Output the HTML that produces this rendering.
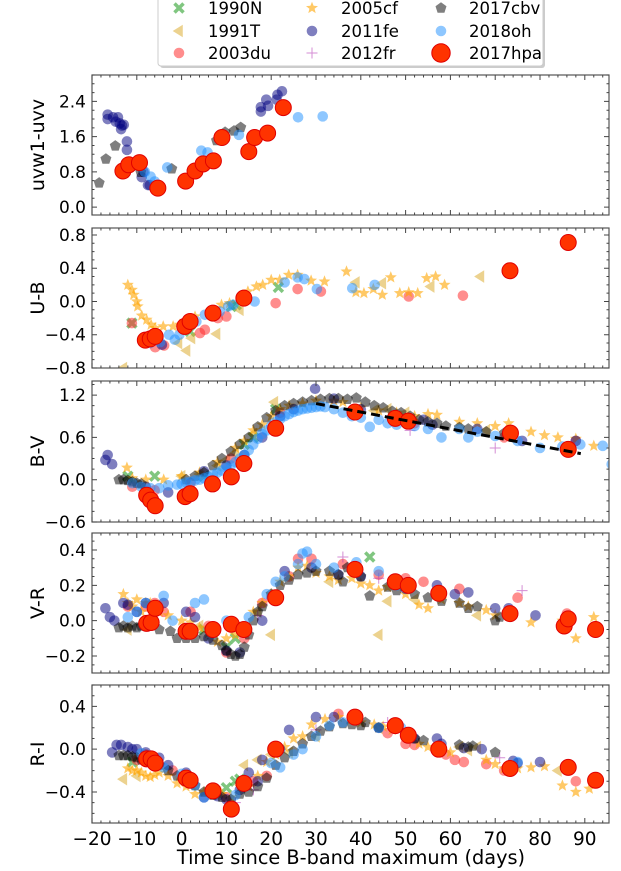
<!DOCTYPE html>
<html><head><meta charset="utf-8"><style>
html,body{margin:0;padding:0;background:#fff;}
svg{display:block;font-family:"DejaVu Sans","Liberation Sans",sans-serif;}
</style></head><body>
<svg id="chart" width="621" height="871" viewBox="0 0 621 871" xmlns="http://www.w3.org/2000/svg"></svg>
<script>
// ---------- data (day, colour) ----------
const uv_2011fe=[[-16.5,2.1],[-16.5,2.0],[-15.3,2.04],[-14.7,1.94],[-14.2,2.04],[-13.8,1.9],[-13.3,1.85],[-13.5,1.77],[-12.9,1.87],[-12.2,1.49],[-12.2,1.3],[-8.9,0.68],[-8.5,0.8],[-7.5,0.5],[-7.1,0.5],[17.7,2.27],[17.7,2.17],[18.9,2.44],[19.3,2.3],[21.2,2.44],[21.4,2.55],[22.4,2.63]];
const uv_2018oh=[[-8.2,0.8],[-6.9,0.69],[-6,0.58],[-3.2,0.9],[4.4,1.28],[5.8,1.24],[12.8,1.64],[26,2.04],[31.5,2.06]];
const uv_2017cbv=[[-18.4,0.55],[-16.9,1.09],[-14.8,1.39],[-9.1,0.79],[-2.2,0.87],[7.8,1.51],[9.7,1.7],[11.7,1.73],[13.2,1.81]];
const uv_2017hpa=[[-13.1,0.82],[-11.8,0.96],[-9.4,1.01],[-5.3,0.43],[0.9,0.59],[3,0.82],[4.8,0.98],[7.1,1.05],[9,1.58],[15,1.26],[16.3,1.58],[19.2,1.68],[22.7,2.26]];

const ub_1990N=[[-11.1,-0.26],[1.9,-0.36],[11.1,-0.06],[12.2,-0.04],[21.6,0.17]];
const ub_1991T=[[-13,-0.8],[-0.7,-0.5],[1.1,-0.59],[2.2,-0.44],[7.8,-0.39],[13,-0.1],[38.9,0.23],[44.8,0.22],[55.6,0.18],[66.7,0.3]];
const ub_2003du=[[-11.1,-0.26],[-5.9,-0.55],[-3.9,-0.53],[4.1,-0.38],[5.2,-0.34],[8.1,-0.2],[10,-0.18],[21,-0.02],[25.9,0.15],[31.1,0.12],[50.7,0.06],[62.8,0.07]];
const ub_2005cf=[[-12,0.2],[-11.1,0.14],[-10.7,0.08],[-10,0.0],[-9.8,-0.06],[-8.9,-0.17],[-7.8,-0.22],[-6.8,-0.28],[-5.9,-0.32],[-4.1,-0.3],[-1.9,-0.3],[-0.4,-0.28],[3,-0.18],[8.9,-0.04],[10.7,-0.02],[14.8,0.12],[16.7,0.18],[18.1,0.2],[20,0.26],[21.9,0.26],[23.9,0.32],[25.9,0.32],[28.9,0.25],[31.9,0.24],[36.8,0.36],[38.9,0.11],[40.7,0.1],[42.8,0.15],[44.8,0.08],[46.7,0.29],[48.7,0.1],[50.7,0.11],[52.7,0.1],[54.7,0.28],[56.7,0.3],[58.7,0.2]];
const ub_2011fe=[[-4.4,-0.52]];
const ub_2018oh=[[-7,-0.5],[-4.8,-0.49],[-2.8,-0.4],[-1.5,-0.46],[-0.5,-0.4],[3.3,-0.24],[5.2,-0.16],[8.5,-0.12],[10.4,-0.06],[11.5,-0.04],[16.3,0.0],[23,0.23],[25.9,0.29],[27.4,0.27],[30.2,0.15],[38.1,0.16],[43.1,0.2]];
const ub_2017hpa=[[-8.1,-0.465],[-7,-0.45],[-5.9,-0.42],[0.7,-0.3],[1.9,-0.24],[7,-0.14],[13.9,0.04],[73.3,0.37],[86.3,0.71]];

const bv_1990N=[[-12,0.05],[-6,0.05],[5,0.05],[14,0.5],[16,0.6],[21,1.0]];
const bv_1991T=[[0,0.05],[4,0.08],[8,0.2],[10,0.28],[12,0.38],[16,0.65],[20.7,1.1],[43,0.98],[46,1.0],[50,0.95],[68,0.7]];
const bv_2003du=[[-11,-0.1],[-6,-0.15],[2,-0.05],[11,0.3],[22,0.95],[52,0.8],[72,0.6],[88,0.55]];
const bv_2005cf=[[-12.2,0.17],[-11,0.02],[-8,0.0],[-4,0.0],[0,0.05],[4,0.1],[8,0.25],[12,0.45],[14,0.55],[16,0.7],[18,0.78],[20,0.9],[22,1.0],[24,1.05],[27,1.08],[30,1.12],[34,1.12],[36,1.1],[40,1.02],[44,0.98],[48,0.95],[52,0.9],[55,0.93],[57,0.92],[62,0.82],[66,0.8],[70,0.76],[73,0.8],[78,0.68],[81,0.63],[84,0.6],[88,0.58],[92,0.48]];
const bv_2011fe=[[-17,0.28],[-16.5,0.35],[-15.5,0.22],[-8,-0.1],[-3,-0.18],[5,0.12],[10,0.2],[14,0.35],[18,0.6],[22,0.9],[25,1.0],[29.8,1.29],[34,1.15],[40,1.0],[54,0.85],[56,0.78],[66,0.72],[76,0.55],[88,0.55]];
const bv_2012fr=[[51,0.7],[70,0.45]];
const bv_2017cbv=[[-14,0.0],[-13,0.0],[-12,-0.01],[-11,-0.03],[-10,-0.05],[-9,-0.06],[1,0.0],[3,0.05],[5,0.1],[7,0.2],[9,0.3],[11,0.4],[13,0.5],[15,0.6],[17,0.75],[19,0.88],[21,0.98],[23,1.05],[25,1.08],[27,1.1],[29,1.12],[31,1.14],[33,1.15],[35,1.15],[37,1.14],[39,1.16],[41,1.1],[43,1.05],[45,1.02],[47,0.97],[49,0.95],[51,0.9],[53,0.85],[55,0.82],[57,0.8],[59,0.76],[62,0.74],[64,0.72],[68,0.68],[72,0.66]];
const bv_2018oh=[[-11,-0.05],[-9,-0.1],[-7,-0.12],[-5,-0.12],[-3,-0.08],[-1,-0.07],[0,-0.06],[1,-0.04],[2,-0.03],[3,-0.01],[4,0.0],[5,0.02],[6,0.04],[7,0.07],[8,0.1],[9,0.13],[10,0.17],[11,0.2],[12,0.25],[13,0.3],[14,0.35],[15,0.42],[16,0.5],[17,0.58],[18,0.65],[19,0.7],[20,0.76],[21,0.82],[22,0.86],[23,0.9],[24,0.93],[25,0.96],[26,0.98],[27,1.0],[28,1.01],[29,1.02],[30,1.03],[31,1.04],[32,1.03],[34,1.0],[36,0.95],[38,0.9],[40,0.88],[42,0.75],[44,0.85],[46,0.8],[48,0.78],[52,0.76],[55,0.72],[58,0.6],[62,0.72],[64,0.6],[66,0.68],[70,0.62],[75,0.55],[80,0.45],[85,0.47],[89,0.5],[94,0.48],[96,0.22]];
const bv_2017hpa=[[-7.8,-0.22],[-6.9,-0.29],[-5.9,-0.37],[0.8,-0.24],[1.9,-0.2],[6.9,-0.06],[11.1,0.04],[13.9,0.23],[21,0.73],[38.7,0.96],[47.7,0.87],[50.6,0.83],[73.4,0.66],[86.3,0.43]];
const bv_fit=[[30,1.08],[89.1,0.37]];

const vr_1990N=[[5,-0.05],[10,-0.15],[12,-0.1],[42,0.36]];
const vr_1991T=[[-12,-0.05],[4,-0.03],[17,0.05],[20,-0.08],[33,0.22],[46,0.11],[52,0.12],[66,0.03],[44,-0.08],[86,0.0]];
const vr_2003du=[[-12,0.08],[-8,0.08],[-6,0.1],[-4,0.05],[2,0.05],[6,-0.03],[10,-0.18],[14,-0.1],[18,0.1],[20,0.13],[24,0.25],[26,0.35],[29,0.35],[36,0.32],[44,0.26],[50,0.24],[54,0.22],[62,0.18],[75,0.13],[86,0.04]];
const vr_2005cf=[[-13,0.15],[-12,0.1],[-11,0.08],[-10,0.12],[-9,0.05],[-8,0.1],[-7,0.1],[-6,0.07],[-5,0.05],[-3,0.03],[0,0.0],[2,-0.01],[4,-0.04],[6,-0.07],[8,-0.12],[10,-0.1],[12,-0.08],[14,-0.04],[16,0.05],[18,0.1],[20,0.15],[22,0.22],[24,0.25],[26,0.3],[28,0.31],[30,0.27],[33,0.25],[35,0.23],[38,0.24],[40,0.21],[42,0.2],[44,0.17],[46,0.19],[50,0.15],[53,0.09],[55,0.07],[58,0.12],[62,0.1],[64,0.08],[68,0.06],[70,0.03],[73,0.04],[78,-0.01],[85,0.0],[88,-0.1],[92,0.02]];
const vr_2011fe=[[-17,0.07],[-16,0.02],[-15,0.0],[-13,0.1],[-12,0.09],[-10,0.05],[-8,0.1],[-4,0.1],[1,0.05],[3,0.02],[6,-0.1],[10,-0.17],[13,-0.18],[18,0.0],[23,0.28],[29,0.3],[35,0.26],[40,0.25],[50,0.18],[57,0.2],[61,0.15],[64,0.16],[70,0.07],[73,0.07],[79,0.03]];
const vr_2012fr=[[17,0.03],[36,0.36],[44,0.24],[49,0.2],[76,0.17]];
const vr_2017cbv=[[-14,-0.04],[-13,-0.03],[-12,-0.04],[-11,-0.03],[-10,-0.04],[-9,-0.03],[-7,-0.02],[-5,-0.05],[-2.5,-0.06],[-1,-0.1],[1,-0.1],[3,-0.1],[5,-0.09],[7,-0.11],[9,-0.14],[10,-0.17],[11,-0.19],[12,-0.2],[13,-0.19],[14,-0.15],[15,-0.08],[16,0.0],[17,0.05],[18,0.08],[20,0.15],[22,0.2],[24,0.23],[26,0.26],[28,0.27],[30,0.28],[33,0.28],[35,0.26],[36,0.22],[37,0.3],[40,0.25],[42,0.14],[46,0.19],[48,0.17],[52,0.15],[55,0.13],[58,0.11],[62,0.1],[64,0.07],[66,0.08],[70,0.0],[71,0.02]];
const vr_2018oh=[[-12,0.02],[-10,0.05],[-8,0.1],[-6,0.05],[-4,0.14],[-2,0.0],[3,0.1],[5,0.12],[10,0.0],[11,-0.03],[15,0.02],[19,0.15],[21,0.22],[23,0.25],[26,0.32],[27,0.38],[28,0.39],[30,0.32],[34,0.3],[39,0.33],[44,0.28],[48,0.2]];
const vr_2017hpa=[[-7.8,-0.015],[-6.8,-0.01],[-5.9,0.07],[1,-0.06],[1.9,-0.06],[7,-0.05],[11.1,-0.02],[13.9,-0.05],[21,0.13],[38.7,0.29],[47.7,0.22],[50.6,0.2],[57.4,0.155],[73.3,0.04],[85.4,-0.03],[86.3,0.01],[92.4,-0.05]];

const ri_1990N=[[-11,-0.12],[10,-0.36],[12,-0.3],[13,-0.28]];
const ri_1991T=[[-13,-0.28],[-10,-0.25],[2,-0.32],[8,-0.4],[14,-0.15],[17,-0.1],[20,-0.05],[24,-0.03],[30,0.12],[44,0.2],[62,0.02],[64,-0.01],[66,0.02],[84,-0.2]];
const ri_2003du=[[-10,-0.1],[-8,-0.05],[-2,-0.2],[2,-0.3],[10,-0.45],[16,-0.3],[19,-0.25],[35,0.33],[46,0.15],[50,0.05],[52,0.04],[59,-0.05],[61,-0.1],[63,-0.12],[68,-0.14],[72,-0.2],[88,-0.3]];
const ri_2005cf=[[-12,-0.18],[-11,-0.2],[-10,-0.2],[-9,-0.22],[-8,-0.25],[-7,-0.26],[-6,-0.24],[-5,-0.22],[-3,-0.25],[-1,-0.32],[1,-0.35],[3,-0.42],[5,-0.4],[7,-0.38],[9,-0.42],[11,-0.45],[13,-0.35],[15,-0.35],[17,-0.25],[19,-0.12],[21,-0.05],[23,0.02],[25,0.1],[27,0.12],[29,0.23],[32,0.28],[35,0.3],[38,0.28],[40,0.25],[43,0.23],[45,0.21],[47,0.18],[50,0.14],[53,0.05],[55,0.02],[58,-0.02],[60,-0.03],[68,-0.1],[70,-0.14],[72,-0.18],[75,-0.18],[78,-0.17],[81,-0.16],[85,-0.34],[88,-0.4],[91,-0.37]];
const ri_2011fe=[[-15.5,-0.03],[-14.5,0.04],[-13.5,0.04],[-12,0.02],[-11,0.0],[-10,0.0],[-8,-0.03],[-5,-0.08],[-3,-0.15],[1,-0.22],[5,-0.45],[8,-0.44],[10,-0.47],[13,-0.38],[15,-0.22],[17,-0.3],[18,-0.1],[22,0.0],[24,0.18],[30,0.3],[34,0.3],[44,0.2],[51,0.14],[52,0.1],[57,0.1],[58,0.05],[63,0.01],[67,0.0],[74,-0.11],[75,-0.13],[80,-0.12]];
const ri_2012fr=[[12,-0.5],[16,-0.38],[30,0.18],[46,0.25],[71,-0.08]];
const ri_2017cbv=[[-14,-0.06],[-13,-0.06],[-12,-0.06],[-11,-0.07],[-10,-0.08],[-9,-0.1],[-7,-0.12],[-5,-0.15],[-3,-0.2],[-1,-0.25],[1,-0.3],[3,-0.34],[5,-0.4],[7,-0.43],[9,-0.45],[11,-0.47],[13,-0.42],[15,-0.4],[17,-0.35],[19,-0.27],[21,-0.15],[23,-0.08],[25,-0.02],[27,0.05],[29,0.12],[31,0.17],[33,0.21],[36,0.24],[38,0.23],[40,0.22],[41,0.25],[44,0.2],[52,0.1],[54,0.08],[62,0.04],[64,0.02],[65,0.03],[70,-0.03]];
const ri_2018oh=[[-9,-0.04],[-6,-0.08],[-4,-0.17],[0,-0.23],[3,-0.34],[5,-0.45],[12,-0.43],[20,-0.13],[22,-0.17],[25,-0.05],[27,0.0],[30,0.12],[33,0.22],[36,0.25],[44,0.2],[49,0.2],[75,-0.12]];
const ri_2017hpa=[[-7.8,-0.09],[-6.8,-0.09],[-5.9,-0.13],[1,-0.27],[1.9,-0.29],[7,-0.39],[11.1,-0.56],[13.9,-0.32],[21,0.0],[38.7,0.3],[47.7,0.22],[50.6,0.13],[57.4,0.0],[73.3,-0.18],[86.3,-0.17],[92.4,-0.29]];

const xTicks=[-20,-10,0,10,20,30,40,50,60,70,80,90];
const uvTicks=[0.0,0.8,1.6,2.4];
const ubTicks=[-0.8,-0.4,0.0,0.4,0.8];
const bvTicks=[-0.6,0.0,0.6,1.2];
const vrTicks=[-0.2,0.0,0.2,0.4];
const riTicks=[-0.4,0.0,0.4];
const legendNames=["1990N","1991T","2003du","2005cf","2011fe","2012fr","2017cbv","2018oh","2017hpa"];

// ---------- rendering ----------
const svg=document.getElementById('chart');
const NS='http://www.w3.org/2000/svg';
function mk(tag,attrs,parent){const e=document.createElementNS(NS,tag);for(const k in attrs)e.setAttribute(k,attrs[k]);(parent||svg).appendChild(e);return e;}
const X0=92,X1=609,D0=-20,D1=95.4;
function xs(d){return X0+(d-D0)/(D1-D0)*(X1-X0);}
const styles={
 '1990N':{shape:'x',fill:'#2ca02c',op:0.6},
 '1991T':{shape:'tri',fill:'#daa520',op:0.5},
 '2003du':{shape:'circle',fill:'#ff3030',op:0.55},
 '2005cf':{shape:'star',fill:'#ffa500',op:0.6},
 '2011fe':{shape:'circle',fill:'#000080',op:0.5},
 '2012fr':{shape:'plus',fill:'#b030b0',op:0.55},
 '2017cbv':{shape:'pent',fill:'#000000',op:0.5},
 '2018oh':{shape:'circle',fill:'#1e90ff',op:0.5},
 '2017hpa':{shape:'big',fill:'#ff3300',op:1}
};
function marker(g,name,cx,cy,scale){
 const s=styles[name];scale=scale||1;let e;
 if(s.shape==='circle'){e=mk('circle',{cx:cx,cy:cy,r:5.3*scale,fill:s.fill,'fill-opacity':s.op},g);}
 else if(s.shape==='big'){e=mk('circle',{cx:cx,cy:cy,r:8*scale,fill:s.fill,stroke:'#e00000','stroke-width':1},g);}
 else if(s.shape==='tri'){const r=6.3*scale;e=mk('polygon',{points:`${cx-r},${cy} ${cx+r*0.6},${cy-r} ${cx+r*0.6},${cy+r}`,fill:s.fill,'fill-opacity':s.op},g);}
 else if(s.shape==='star'){const R=6.3*scale,r=2.7*scale;let p=[];for(let i=0;i<10;i++){const a=-Math.PI/2+i*Math.PI/5;const rr=i%2?r:R;p.push((cx+rr*Math.cos(a)).toFixed(1)+','+(cy+rr*Math.sin(a)).toFixed(1));}e=mk('polygon',{points:p.join(' '),fill:s.fill,'fill-opacity':s.op},g);}
 else if(s.shape==='pent'){const R=5.8*scale;let p=[];for(let i=0;i<5;i++){const a=-Math.PI/2+i*2*Math.PI/5;p.push((cx+R*Math.cos(a)).toFixed(1)+','+(cy+R*Math.sin(a)).toFixed(1));}e=mk('polygon',{points:p.join(' '),fill:s.fill,'fill-opacity':s.op},g);}
 else if(s.shape==='x'){const r=4.5*scale;e=mk('path',{d:`M${cx-r},${cy-r}L${cx+r},${cy+r}M${cx-r},${cy+r}L${cx+r},${cy-r}`,stroke:s.fill,'stroke-opacity':s.op,'stroke-width':3.5*scale},g);}
 else if(s.shape==='plus'){const r=5.5*scale;e=mk('path',{d:`M${cx-r},${cy}L${cx+r},${cy}M${cx},${cy-r}L${cx},${cy+r}`,stroke:s.fill,'stroke-opacity':s.op,'stroke-width':1},g);}
 return e;
}
const panels=[
 {key:'uv',label:'uvw1-uvv',top:75,bot:215,vmin:-0.18,vmax:3.0,ticks:uvTicks,minor:0.2,dec:1,series:{'2011fe':uv_2011fe,'2017cbv':uv_2017cbv,'2018oh':uv_2018oh,'2017hpa':uv_2017hpa}},
 {key:'ub',label:'U-B',top:228,bot:368,vmin:-0.8,vmax:0.884,ticks:ubTicks,minor:0.1,dec:1,series:{'1990N':ub_1990N,'1991T':ub_1991T,'2003du':ub_2003du,'2005cf':ub_2005cf,'2011fe':ub_2011fe,'2018oh':ub_2018oh,'2017hpa':ub_2017hpa}},
 {key:'bv',label:'B-V',top:381,bot:522,vmin:-0.6,vmax:1.4,ticks:bvTicks,minor:0.15,dec:1,series:{'1990N':bv_1990N,'1991T':bv_1991T,'2003du':bv_2003du,'2005cf':bv_2005cf,'2011fe':bv_2011fe,'2012fr':bv_2012fr,'2017cbv':bv_2017cbv,'2018oh':bv_2018oh,'2017hpa':bv_2017hpa},fit:bv_fit},
 {key:'vr',label:'V-R',top:533,bot:673,vmin:-0.296,vmax:0.496,ticks:vrTicks,minor:0.05,dec:1,series:{'1990N':vr_1990N,'1991T':vr_1991T,'2003du':vr_2003du,'2005cf':vr_2005cf,'2011fe':vr_2011fe,'2012fr':vr_2012fr,'2017cbv':vr_2017cbv,'2018oh':vr_2018oh,'2017hpa':vr_2017hpa}},
 {key:'ri',label:'R-I',top:685,bot:823,vmin:-0.69,vmax:0.6,ticks:riTicks,minor:0.1,dec:1,series:{'1990N':ri_1990N,'1991T':ri_1991T,'2003du':ri_2003du,'2005cf':ri_2005cf,'2011fe':ri_2011fe,'2012fr':ri_2012fr,'2017cbv':ri_2017cbv,'2018oh':ri_2018oh,'2017hpa':ri_2017hpa}}
];
function fmt(v,dec){const s=Math.abs(v).toFixed(dec);return (v<-1e-9?'\u2212':'')+s;}
panels.forEach((p,pi)=>{
 const ys=v=>p.bot-(v-p.vmin)/(p.vmax-p.vmin)*(p.bot-p.top);
 const g=mk('g',{});
 
 
 const clipId='clip'+pi;
 const cp=mk('clipPath',{id:clipId},g);mk('rect',{x:X0,y:p.top,width:X1-X0,height:p.bot-p.top},cp);
 const pts=mk('g',{'clip-path':`url(#${clipId})`},g);
 
 
 legendNames.forEach(n=>{
   const arr=p.series[n];if(!arr)return;
   const sg=mk('g',{},pts);
   
   
   arr.forEach(d=>{const m=marker(sg,n,xs(d[0]),ys(d[1]));
     
     });
 });
 if(p.fit){const l=mk('line',{x1:xs(p.fit[0][0]),y1:ys(p.fit[0][1]),x2:xs(p.fit[1][0]),y2:ys(p.fit[1][1]),stroke:'#000','stroke-width':3,'stroke-dasharray':'9,5'},pts);
   
   }
 const fr=mk('rect',{x:X0,y:p.top,width:X1-X0,height:p.bot-p.top,fill:'none',stroke:'#555','stroke-width':1.2},g);
 
 
 let tp='';
 for(let d=-20;d<=95;d+=2){const x=xs(d);const major=(d%10===0);const L=major?5:2.5;tp+=`M${x},${p.bot}v${-L}M${x},${p.top}v${L}`;}
 const start=Math.ceil((p.vmin-1e-9)/p.minor);
 for(let k=start;k*p.minor<=p.vmax+1e-9;k++){const v=k*p.minor;const y=ys(v);const major=p.ticks.some(t=>Math.abs(t-v)<1e-6);const L=major?5:2.5;tp+=`M${X0},${y}h${L}M${X1},${y}h${-L}`;}
 mk('path',{d:tp,stroke:'#444','stroke-width':1,fill:'none'},g);
 p.ticks.forEach(t=>{const tx=mk('text',{x:X0-6,y:ys(t)+6,'text-anchor':'end','font-size':17,fill:'#000'},g);tx.textContent=fmt(t,p.dec);
   
   });
 const yl=mk('text',{x:0,y:0,transform:`translate(44,${(p.top+p.bot)/2}) rotate(-90)`,'text-anchor':'middle','font-size':19,fill:'#000'},g);yl.textContent=p.label;
 
 
 if(pi===panels.length-1){
   xTicks.forEach(t=>{const tx=mk('text',{x:xs(t),y:p.bot+22,'text-anchor':'middle','font-size':18.5,fill:'#000'},g);tx.textContent=fmt(t,0);
     
     });
   const xl=mk('text',{x:351,y:864,'text-anchor':'middle','font-size':19.3,fill:'#000'},g);xl.textContent='Time since B-band maximum (days)';
   
   
 }
});
// legend
const lg=mk('g',{});


mk('rect',{x:160,y:-4,width:385,height:72,rx:3,fill:'#999','fill-opacity':0.5},lg);
mk('rect',{x:158,y:-6,width:385,height:72,rx:3,fill:'#fff',stroke:'#ccc','stroke-width':1},lg);
const colX=[179,312,441],textX=[208,341,469],rowY=[8,31,53];
legendNames.forEach((n,i)=>{
 const c=Math.floor(i/3),r=i%3;
 const e=mk('g',{},lg);
 
 
 marker(e,n,colX[c],rowY[r],n==='2017hpa'?1.15:1);
 const t=mk('text',{x:textX[c],y:rowY[r]+6,'font-size':16.5,fill:'#000'},e);t.textContent=n;
});
</script>
</body></html>
